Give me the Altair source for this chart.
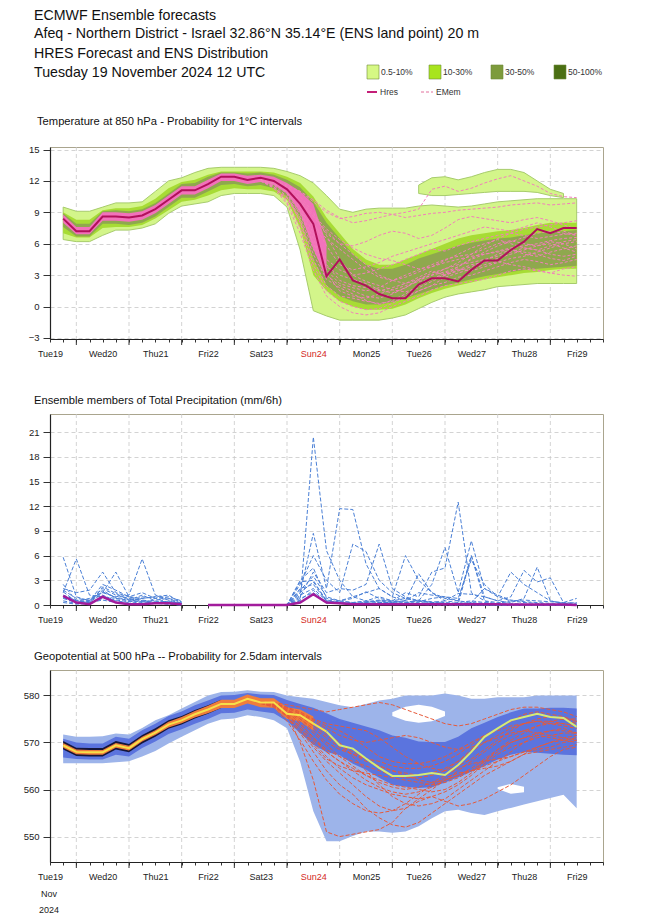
import json
import altair as alt
import pandas as pd

FONT = "Liberation Sans"

# ---------------- time axis ----------------
HOURS = list(range(6, 241, 6))          # forecast steps (h since Tue19 12UTC)
MEM_H = HOURS[15:]                       # 96..240 h, where members diverge
DAY_LABELS = ["Tue19", "Wed20", "Thu21", "Fri22", "Sat23", "Sun24",
              "Mon25", "Tue26", "Wed27", "Thu28", "Fri29"]
GRID_H = [12, 36, 60, 84, 108, 132, 156, 180, 204, 228]
TICK_H = list(range(0, 253, 6))

# ---------------- Temperature 850 hPa ----------------
T_HRES = [8.4, 7.2, 7.2, 8.6, 8.6, 8.5, 8.7, 9.3, 10.2, 11.1, 11.1, 11.7, 12.4, 12.4, 12.1, 12.3, 12.0, 11.2, 9.8, 7.9,
          2.9, 4.5, 2.5, 2.0, 1.2, 0.8, 0.8, 2.1, 2.7, 2.7, 2.4, 3.5, 4.4, 4.4, 5.4, 6.2, 7.4, 7.0, 7.5, 7.5]
T_LO0 = [6.4, 6.2, 6.2, 6.8, 7.3, 7.3, 7.5, 7.9, 8.9, 9.6, 9.8, 10.0, 10.6, 10.8, 10.8, 10.8, 10.6, 9.5, 5.4, -0.4,
         -0.9, -1.3, -1.3, -1.3, -1.3, -1.1, -0.8, -0.2, 0.4, 0.9, 1.2, 1.4, 1.6, 1.9, 2.0, 2.1, 2.2, 2.2, 2.2, 2.2]
T_HI0 = [9.5, 9.1, 9.1, 9.5, 9.9, 9.9, 10.0, 11.0, 12.0, 12.3, 12.8, 13.2, 13.3, 13.3, 13.3, 13.3, 13.2, 12.9, 12.5, 11.8,
         10.6, 9.3, 9.0, 9.3, 9.4, 9.4, 9.4, 9.6, 9.7, 9.6, 9.5, 9.6, 9.8, 10.0, 10.1, 10.2, 10.3, 10.3, 10.3, 10.3]
T_ISL_H = [168, 174, 180, 186, 192, 198, 204, 210, 216, 222, 228, 234]
T_ISL_LO = [10.8, 10.6, 10.6, 10.7, 10.8, 10.9, 11.0, 11.0, 11.0, 10.9, 10.6, 10.4]
T_ISL_HI = [11.6, 12.3, 12.4, 12.1, 12.4, 12.8, 13.1, 13.1, 12.8, 12.0, 11.2, 10.8]
T_LO1 = [7.0, 6.6, 6.6, 7.5, 7.6, 7.6, 7.8, 8.4, 9.2, 10.0, 10.2, 10.6, 11.1, 11.3, 11.2, 11.2, 11.0, 10.2, 7.5, 3.0,
         1.5, 0.5, 0.0, -0.3, -0.3, -0.2, 0.2, 0.8, 1.3, 1.7, 2.0, 2.3, 2.6, 2.8, 3.0, 3.2, 3.3, 3.5, 3.6, 3.6]
T_HI1 = [9.0, 8.3, 8.3, 9.2, 9.4, 9.4, 9.6, 10.3, 11.3, 11.9, 12.1, 12.6, 12.9, 12.9, 12.9, 12.9, 12.8, 12.4, 11.8, 10.5,
         8.5, 7.0, 5.5, 4.5, 4.0, 4.0, 4.5, 5.0, 5.5, 6.0, 6.5, 6.8, 7.0, 7.2, 7.3, 7.5, 7.8, 8.0, 8.0, 8.0]
T_LO2 = [7.6, 6.7, 6.7, 7.9, 7.9, 7.8, 8.0, 8.6, 9.5, 10.4, 10.4, 11.0, 11.6, 11.7, 11.5, 11.6, 11.3, 10.5, 8.5, 4.5,
         2.0, 1.0, 0.5, 0.2, 0.2, 0.4, 0.8, 1.2, 1.6, 2.0, 2.3, 2.6, 2.9, 3.1, 3.3, 3.5, 3.6, 3.7, 3.8, 3.9]
T_HI2 = [8.9, 7.9, 7.9, 9.1, 9.2, 9.1, 9.3, 9.9, 10.8, 11.7, 11.8, 12.4, 12.8, 12.8, 12.7, 12.8, 12.6, 12.1, 11.4, 10.0,
         8.0, 6.5, 5.0, 4.0, 3.6, 3.6, 4.0, 4.6, 5.0, 5.4, 5.8, 6.1, 6.3, 6.5, 6.6, 6.8, 7.0, 7.1, 7.2, 7.3]
T_PK_H = HOURS[:21]
T_PK_LO = [8.0, 6.9, 6.9, 8.2, 8.2, 8.1, 8.3, 8.9, 9.8, 10.7, 10.7, 11.3, 12.0, 12.0, 11.7, 11.9, 11.6, 10.8, 9.0, 5.5, 2.6]
T_PK_HI = [8.8, 7.6, 7.6, 9.0, 9.0, 8.9, 9.1, 9.7, 10.6, 11.5, 11.5, 12.1, 12.7, 12.7, 12.5, 12.6, 12.4, 11.8, 11.0, 9.8, 6.0]
T_MEMBERS = {
    "m1": [12.3, 12.0, 11.5, 11.0, 10.2, 9.2, 8.5, 8.0, 8.2, 8.5, 8.8, 9.0, 9.3, 11.2, 11.5, 11.0, 11.3, 11.8, 12.2, 12.5, 12.0, 11.5, 10.8, 10.5, 10.4],
    "m2": [12.3, 12.1, 11.6, 11.0, 10.0, 9.0, 8.4, 8.6, 8.9, 9.0, 8.8, 8.5, 8.7, 8.9, 9.0, 9.2, 9.3, 9.4, 9.5, 9.7, 9.8, 9.9, 9.7, 9.8, 9.9],
    "m3": [12.2, 11.8, 11.0, 10.0, 8.6, 7.0, 6.0, 5.8, 6.2, 6.8, 7.2, 7.0, 6.5, 6.8, 7.5, 8.3, 8.6, 8.4, 8.2, 8.0, 8.3, 8.5, 8.2, 7.8, 7.4],
    "m4": [12.2, 11.9, 11.2, 9.5, 7.0, 4.5, 3.5, 3.0, 3.2, 3.6, 4.0, 4.5, 5.0, 5.5, 5.3, 5.8, 6.2, 6.5, 6.8, 7.0, 6.8, 6.5, 6.7, 6.9, 7.0],
    "m5": [12.1, 11.6, 10.5, 8.5, 5.5, 3.0, 2.0, 1.5, 1.0, 0.8, 1.2, 1.8, 2.5, 3.0, 3.3, 3.8, 4.5, 5.0, 5.2, 5.5, 5.0, 4.8, 5.2, 5.5, 5.8],
    "m6": [12.0, 11.5, 10.0, 7.5, 4.0, 1.5, 0.5, 0.0, -0.3, -0.2, 0.3, 1.0, 1.5, 2.0, 2.3, 2.8, 3.0, 3.4, 3.8, 4.2, 4.5, 4.3, 4.0, 4.2, 4.5],
    "m7": [12.3, 11.9, 11.0, 9.0, 6.0, 3.5, 2.2, 1.8, 1.5, 1.8, 2.5, 3.0, 3.5, 4.0, 4.5, 4.8, 5.0, 5.5, 6.0, 6.3, 6.0, 5.8, 6.2, 6.0, 5.5],
    "m8": [12.2, 11.7, 10.8, 8.0, 4.5, 2.0, 1.0, 0.8, 0.5, 0.3, 0.5, 0.8, 1.5, 2.0, 2.8, 3.2, 3.6, 4.0, 4.3, 4.0, 3.8, 3.5, 3.2, 3.0, 2.9],
    "m9": [12.1, 11.4, 10.2, 9.0, 7.8, 6.5, 5.5, 4.5, 3.5, 2.8, 2.5, 2.8, 3.3, 3.8, 4.2, 4.5, 4.8, 5.0, 5.3, 5.6, 5.8, 6.0, 6.3, 6.5, 6.6],
    "m10": [12.2, 11.8, 10.8, 8.8, 6.0, 3.8, 3.0, 2.6, 2.2, 1.6, 1.3, 1.8, 2.6, 3.2, 3.6, 4.0, 4.2, 4.5, 4.8, 5.2, 5.6, 5.4, 5.0, 4.8, 5.0],
    "m11": [12.3, 12.0, 11.2, 10.0, 8.6, 7.2, 6.0, 5.0, 4.0, 3.0, 2.5, 2.2, 2.6, 3.0, 3.6, 4.2, 5.0, 5.8, 6.5, 7.0, 7.4, 7.6, 7.8, 8.0, 8.2],
    "m12": [12.0, 11.3, 9.8, 7.0, 3.5, 1.0, 0.0, -0.6, -0.8, -0.6, 0.0, 0.5, 1.0, 1.6, 2.0, 2.2, 2.4, 2.6, 3.0, 3.4, 3.6, 3.4, 3.2, 3.6, 3.8],
    "m13": [12.2, 11.9, 11.3, 10.0, 7.5, 4.0, 2.5, 2.0, 1.8, 1.5, 1.8, 2.2, 2.8, 3.4, 3.0, 3.5, 4.0, 4.2, 4.6, 5.0, 5.4, 5.8, 6.0, 5.6, 5.2],
    "m14": [12.1, 11.7, 10.9, 9.2, 6.5, 3.2, 1.5, 1.0, 0.8, 1.2, 1.6, 2.0, 2.4, 2.6, 3.0, 3.4, 3.8, 4.4, 5.0, 5.4, 5.2, 5.0, 4.6, 4.4, 4.8],
    "m15": [12.3, 12.0, 11.4, 10.5, 9.0, 6.8, 4.5, 3.0, 2.4, 2.0, 1.6, 1.4, 1.8, 2.4, 3.0, 3.8, 4.6, 5.2, 5.8, 6.2, 6.6, 7.0, 7.2, 7.0, 6.8],
    "m16": [12.2, 11.8, 11.1, 9.8, 8.0, 5.8, 4.0, 3.5, 3.8, 4.2, 4.8, 5.2, 5.6, 6.0, 6.4, 6.8, 7.2, 7.6, 7.4, 7.2, 7.6, 8.0, 7.6, 7.2, 6.8],
    "m17": [12.0, 11.4, 10.4, 8.2, 5.0, 2.6, 1.8, 1.2, 0.6, 0.2, 0.6, 1.2, 2.0, 2.6, 3.2, 3.6, 3.4, 3.8, 4.2, 4.6, 4.8, 5.2, 5.6, 6.0, 6.2],
    "m18": [12.3, 11.9, 11.2, 10.2, 8.8, 7.4, 6.4, 5.6, 5.0, 4.6, 4.4, 4.0, 3.6, 3.8, 4.4, 5.0, 5.6, 6.0, 6.4, 6.0, 5.6, 5.4, 5.8, 6.2, 6.4],
}

# ---------------- Precipitation (mm/6h) ----------------
P_HRES = [1.1, 0.3, 0.1, 1.0, 0.3, 0.1, 0.1, 0.2, 0.2, 0.1, None, 0, 0, 0, 0, 0, 0, 0,
          0.3, 1.3, 0.3, 0.2, 0.1, 0.1, 0.1, 0.1, 0.1, 0.1, 0.1, 0.1, 0.1, 0.1, 0.1, 0.1, 0.05, 0.05, 0.05, 0.05, 0.05, 0.0]
P_MEMBERS = {
    "p1": [5.8, 1.0, 0.5, 2.0, 1.2, 0.8, 0.5, 0.3, 0.1, 0.0, None, 0, 0, 0, 0, 0, 0, 0,
           0.5, 20.4, 6.6, 3.0, 1.0, 0.5, 0.3, 0.2, 0.1, 0.1, 0, 0, 0, 0, 0, 0, 0, 0, 0, 0, 0, 0],
    "p2": [1.5, 5.6, 1.2, 1.0, 0.8, 0.5, 0.4, 0.2, 0.1, 0.0, None, 0, 0, 0, 0, 0, 0, 0,
           1.5, 8.7, 2.0, 11.7, 11.6, 5.0, 2.0, 1.0, 0.5, 0.3, 0.2, 0.1, 0, 0, 0, 0, 0, 0, 0, 0, 0, 0],
    "p3": [2.0, 1.5, 1.8, 4.0, 1.5, 1.0, 1.5, 0.8, 0.3, 0.1, None, 0, 0, 0, 0, 0, 0, 0,
           2.5, 6.0, 3.0, 1.5, 7.4, 6.5, 3.0, 1.5, 0.8, 0.5, 0.3, 0.2, 0.1, 6.0, 0.5, 0, 0, 0, 0, 0, 0, 0],
    "p4": [1.0, 0.5, 0.8, 1.5, 1.0, 1.2, 5.6, 1.2, 0.8, 0.2, None, 0, 0, 0, 0, 0, 0, 0,
           1.0, 4.0, 1.5, 2.0, 1.8, 2.5, 7.4, 2.0, 1.0, 0.5, 0.3, 0.2, 0.1, 0.1, 0, 0, 0, 0, 0, 0, 0, 0],
    "p5": [0.8, 0.3, 0.5, 2.5, 1.8, 1.0, 0.8, 1.0, 0.6, 0.2, None, 0, 0, 0, 0, 0, 0, 0,
           3.0, 4.5, 0.8, 0.5, 1.0, 1.5, 2.0, 1.0, 6.0, 3.0, 1.5, 0.8, 0.5, 0.3, 0.2, 0, 0, 0, 0, 0, 0, 0],
    "p6": [1.8, 0.8, 0.6, 1.2, 0.5, 0.3, 1.0, 0.8, 1.0, 0.5, None, 0, 0, 0, 0, 0, 0, 0,
           1.8, 3.5, 1.0, 0.5, 0.3, 0.5, 1.0, 0.5, 1.5, 1.0, 4.0, 4.5, 12.5, 1.5, 0.5, 0.3, 0.2, 0.1, 0, 0, 0, 0],
    "p7": [0.5, 0.2, 0.3, 1.5, 4.0, 1.0, 0.5, 0.3, 0.2, 0.1, None, 0, 0, 0, 0, 0, 0, 0,
           2.0, 2.5, 0.5, 0.3, 0.2, 0.3, 0.5, 0.5, 0.8, 0.5, 2.5, 7.0, 1.5, 7.8, 2.0, 1.0, 0.5, 0.3, 0.2, 0.1, 0, 0],
    "p8": [1.2, 0.6, 0.4, 1.8, 0.8, 0.6, 1.2, 0.5, 0.3, 0.1, None, 0, 0, 0, 0, 0, 0, 0,
           1.2, 2.0, 0.5, 0.3, 0.2, 0.2, 0.3, 0.3, 0.5, 1.5, 1.2, 1.0, 0.8, 5.5, 2.5, 1.0, 4.0, 2.5, 1.5, 0.5, 0.2, 0.0],
    "p9": [0.3, 0.1, 0.2, 0.8, 0.6, 0.4, 0.8, 1.0, 1.2, 0.3, None, 0, 0, 0, 0, 0, 0, 0,
           0.8, 1.5, 0.3, 0.2, 0.1, 0.3, 0.5, 0.3, 0.2, 0.5, 0.3, 0.5, 1.4, 1.3, 1.0, 0.5, 1.0, 4.2, 2.8, 3.3, 0.3, 0.8],
    "p10": [2.5, 0.5, 0.3, 0.6, 0.3, 0.2, 0.4, 0.6, 0.8, 0.4, None, 0, 0, 0, 0, 0, 0, 0,
            2.8, 3.0, 0.4, 0.2, 0.1, 0.1, 0.2, 0.2, 0.3, 0.4, 0.8, 1.0, 0.5, 6.0, 1.0, 0.5, 0.3, 0.8, 4.6, 0.5, 0.2, 0.3],
    "p11": [1.6, 0.4, 0.2, 2.2, 1.4, 0.6, 0.3, 0.2, 0.5, 0.2, None, 0, 0, 0, 0, 0, 0, 0,
            1.5, 2.8, 0.6, 0.4, 0.3, 0.4, 0.6, 0.4, 0.5, 3.8, 1.5, 0.5, 0.3, 0.5, 0.3, 0.2, 0.5, 0.6, 0.5, 0.4, 0.3, 0.2],
    "p12": [0.9, 0.3, 0.6, 1.6, 0.9, 0.7, 0.6, 0.4, 0.4, 0.2, None, 0, 0, 0, 0, 0, 0, 0,
            0.6, 1.8, 0.2, 0.5, 0.8, 1.6, 0.8, 0.5, 0.3, 0.6, 0.4, 0.3, 0.2, 0.3, 2.0, 1.2, 0.6, 0.4, 0.3, 0.2, 0.2, 0.1],
}

# ---------------- Geopotential 500 hPa (dam) ----------------
Z_HRES = [569.4, 568.0, 567.9, 567.9, 569.4, 568.8, 570.7, 572.1, 573.8, 574.7, 576.0, 577.0, 578.2, 578.2, 579.3,
          578.5, 578.5, 576.1, 575.8, 574.0, 572.3, 569.4, 568.7, 566.6, 564.6, 562.9, 562.9, 563.1, 563.5, 563.1,
          565.2, 568.0, 571.2, 573.0, 574.7, 575.4, 576.1, 575.4, 575.2, 573.3]
Z_LO0 = [565.6, 565.6, 565.6, 565.6, 565.8, 566.0, 567.0, 568.2, 569.8, 571.2, 572.6, 574.0, 574.9, 575.1, 575.8,
         575.4, 574.7, 573.0, 565.9, 555.4, 549.0, 549.0, 550.1, 551.1, 551.1, 550.8, 551.1, 552.2, 553.9, 555.4,
         555.7, 555.0, 554.6, 555.4, 556.1, 556.8, 557.5, 558.2, 558.9, 556.0]
Z_HI0 = [571.7, 571.2, 571.2, 571.3, 571.9, 571.7, 573.1, 574.7, 575.8, 577.2, 578.6, 580.0, 580.7, 580.8, 581.1,
         580.8, 580.7, 580.0, 579.6, 579.3, 578.6, 577.9, 577.5, 578.2, 578.9, 579.3, 580.0, 580.0, 580.0, 580.4,
         580.0, 579.3, 579.3, 579.6, 579.6, 579.6, 580.0, 580.0, 580.0, 580.0]
Z_LO1 = [566.8, 566.5, 566.4, 566.4, 567.4, 567.0, 568.8, 570.2, 571.8, 572.8, 574.0, 575.0, 576.2, 576.3, 577.0,
         576.6, 576.2, 574.5, 572.0, 569.5, 568.0, 567.3, 565.5, 564.2, 562.5, 561.0, 560.6, 560.3, 560.5, 561.5,
         562.6, 563.8, 565.0, 566.4, 567.4, 568.0, 567.8, 567.6, 567.4, 567.3]
Z_HI1 = [570.8, 570.0, 569.8, 569.8, 571.2, 570.8, 572.6, 574.0, 575.6, 576.6, 577.9, 578.9, 580.0, 580.1, 580.5,
         580.2, 580.1, 579.0, 578.2, 577.4, 576.2, 575.0, 574.2, 573.4, 572.6, 571.5, 571.0, 570.2, 570.1, 570.1,
         571.2, 573.0, 574.2, 575.4, 576.4, 577.2, 577.2, 577.4, 577.4, 577.2]
Z_BK_H = HOURS[:13]
Z_LO2 = [568.5, 567.1, 567.0, 567.0, 568.5, 567.9, 569.8, 571.2, 572.9, 573.8, 575.1, 576.1, 577.3]
Z_HI2 = [570.3, 568.9, 568.8, 568.8, 570.3, 569.7, 571.6, 573.0, 574.7, 575.6, 576.9, 577.9, 579.1]
Z_OR_H = HOURS[:20]
Z_LO3 = [568.9, 567.5, 567.4, 567.4, 568.9, 568.3, 570.2, 571.6, 573.2, 574.1, 575.3, 576.2, 577.3, 577.3, 578.3,
         577.5, 577.4, 575.0, 574.5, 572.5]
Z_HI3 = [569.9, 568.5, 568.4, 568.4, 569.9, 569.3, 571.2, 572.6, 574.4, 575.4, 576.7, 577.8, 579.1, 579.1, 580.2,
         579.4, 579.4, 577.5, 577.0, 575.5]
Z_HOLE1_H = [156, 162, 168, 174, 180]
Z_HOLE1_LO = [575.6, 574.6, 574.2, 574.5, 575.6]
Z_HOLE1_HI = [576.4, 577.6, 578.0, 577.6, 576.6]
Z_HOLE2_H = [204, 210, 216]
Z_HOLE2_LO = [560.1, 559.1, 559.4]
Z_HOLE2_HI = [560.5, 561.2, 560.6]
Z_MEMBERS = {
    "z1": [578.5, 578.0, 576.0, 570.0, 562.0, 551.0, 550.0, 550.5, 551.0, 551.5, 553.0, 556.0, 558.0, 560.0, 562.0, 563.0, 564.0, 565.0, 566.0, 567.0, 568.0, 568.5, 569.0, 570.0, 570.5],
    "z2": [578.5, 578.2, 577.0, 575.5, 574.0, 572.0, 570.0, 567.0, 564.0, 561.0, 558.5, 557.0, 556.5, 557.0, 558.0, 560.0, 562.0, 564.0, 566.0, 568.0, 570.0, 571.5, 572.5, 573.0, 572.0],
    "z3": [578.6, 578.4, 577.5, 576.5, 575.0, 574.0, 573.5, 573.0, 572.5, 571.0, 569.0, 567.0, 565.5, 564.5, 564.0, 565.0, 566.5, 568.5, 570.5, 572.5, 574.0, 575.0, 575.5, 575.0, 574.0],
    "z4": [578.4, 577.8, 575.5, 572.0, 568.0, 564.0, 561.0, 559.0, 556.0, 554.0, 552.5, 552.0, 553.0, 555.0, 557.0, 559.0, 561.0, 563.0, 564.5, 566.0, 567.5, 569.0, 570.0, 571.0, 571.5],
    "z5": [578.6, 578.5, 578.0, 577.5, 577.0, 576.5, 577.0, 577.5, 578.0, 578.5, 578.0, 577.0, 576.0, 575.0, 574.0, 573.5, 574.0, 575.0, 576.0, 577.0, 577.5, 577.5, 577.0, 576.5, 575.5],
    "z6": [578.5, 578.0, 576.5, 574.0, 571.0, 568.0, 566.0, 564.5, 563.0, 562.0, 561.0, 560.5, 560.0, 559.5, 560.0, 561.5, 563.5, 566.0, 568.5, 570.5, 572.0, 573.5, 574.5, 575.0, 575.0],
    "z7": [578.3, 577.5, 574.5, 570.5, 566.0, 562.0, 559.0, 557.0, 555.5, 555.0, 555.5, 557.0, 559.0, 561.0, 562.5, 563.5, 564.0, 564.5, 565.0, 566.0, 567.5, 568.0, 568.5, 569.0, 569.5],
    "z8": [578.6, 578.3, 577.0, 575.0, 573.0, 571.0, 569.0, 567.5, 566.0, 565.0, 564.0, 563.5, 563.0, 563.5, 564.5, 566.0, 568.0, 570.0, 571.5, 573.0, 574.0, 574.5, 574.0, 573.5, 573.0],
    "z9": [578.4, 578.1, 576.8, 574.5, 572.0, 569.5, 567.0, 565.0, 563.0, 561.5, 560.5, 560.0, 560.5, 561.5, 563.0, 564.5, 565.5, 566.0, 566.5, 567.0, 568.0, 569.0, 570.0, 570.5, 571.0],
    "z10": [578.5, 578.2, 577.3, 576.0, 574.5, 573.0, 571.5, 570.5, 570.0, 570.5, 571.0, 571.5, 571.0, 570.0, 569.0, 568.5, 569.0, 570.0, 571.0, 572.0, 572.5, 572.0, 571.5, 571.0, 570.5],
    "z11": [578.3, 577.6, 575.5, 572.5, 569.0, 566.0, 563.5, 561.0, 558.5, 556.5, 555.5, 556.0, 557.5, 558.5, 557.5, 556.5, 557.0, 558.0, 559.5, 561.0, 563.0, 565.0, 567.0, 568.5, 569.0],
    "z12": [578.5, 578.0, 576.2, 573.0, 569.5, 566.5, 565.0, 564.0, 563.5, 563.0, 562.5, 562.0, 561.5, 561.0, 561.5, 562.5, 564.0, 566.0, 568.0, 570.0, 571.0, 572.0, 572.5, 572.5, 572.0],
    "z13": [578.5, 578.1, 576.6, 574.0, 571.0, 568.5, 567.0, 566.0, 565.0, 564.0, 563.0, 562.5, 562.5, 563.0, 564.0, 566.0, 568.5, 571.0, 573.0, 574.5, 575.5, 576.0, 575.5, 575.0, 574.5],
    "z14": [578.4, 577.9, 576.0, 573.5, 570.5, 568.0, 566.0, 564.0, 562.0, 560.5, 559.5, 559.0, 559.5, 560.5, 562.0, 564.0, 566.0, 568.0, 570.0, 571.5, 572.5, 573.5, 574.0, 574.0, 573.5],
    "z15": [578.6, 578.2, 577.0, 575.5, 573.5, 571.5, 569.5, 568.0, 566.5, 565.0, 564.0, 563.0, 562.0, 561.5, 562.0, 563.0, 564.5, 566.5, 568.5, 570.0, 571.0, 571.5, 571.0, 570.5, 570.0],
    "z16": [578.5, 578.0, 576.8, 575.0, 572.5, 570.0, 568.5, 567.5, 566.5, 566.0, 565.0, 564.5, 564.5, 565.0, 566.0, 567.5, 569.5, 571.5, 573.0, 574.5, 576.0, 576.5, 576.0, 575.5, 574.5],
    "z17": [578.4, 577.7, 575.8, 573.0, 570.0, 567.0, 564.5, 562.5, 561.0, 560.0, 559.0, 558.5, 558.0, 558.5, 559.5, 561.0, 563.0, 565.5, 567.5, 569.0, 570.0, 571.0, 571.5, 572.0, 572.0],
    "z18": [578.5, 578.3, 577.4, 576.2, 574.8, 573.5, 572.5, 571.0, 569.0, 567.0, 566.0, 565.5, 565.5, 566.0, 567.0, 568.5, 570.0, 571.5, 572.5, 573.5, 574.0, 574.5, 574.5, 574.0, 573.5],
}

# ---------------- helpers ----------------
W = 553
H1, H2, H3 = 192, 191, 192
X_SCALE = alt.Scale(domain=[0, 252], nice=False, zero=False)
LABEL_EXPR = "datum.value % 24 == 0 ? " + json.dumps(DAY_LABELS) + "[datum.value / 24] : ''"
DUMMY = pd.DataFrame({"a": [0]})


def band(hours, lo, hi):
    return pd.DataFrame({"h": hours, "lo": lo, "hi": hi})


def series(hours, v):
    return pd.DataFrame({"h": hours, "v": v})


def members(hours, mems):
    rows = [{"m": k, "h": h, "v": v} for k, vals in mems.items() for h, v in zip(hours, vals)]
    return pd.DataFrame(rows)


def x_axis():
    return alt.Axis(values=TICK_H, labelExpr=LABEL_EXPR, grid=False, tickSize=3, tickColor="#333333",
                    labelPadding=7, labelFontSize=9, labelFont=FONT,
                    labelColor=alt.condition("datum.value == 120", alt.value("#d42a1e"), alt.value("#222222")),
                    labelFlush=False, labelOverlap=False, labelBound=False,
                    domainColor="#222222", domainWidth=1.2, title=None)


def y_axis(vals):
    return alt.Axis(values=vals, grid=True, gridDash=[4, 3], gridColor="#c8c8c8", gridWidth=0.8,
                    tickSize=7, tickColor="#333333", labelPadding=4, labelFontSize=9.5, labelFont=FONT,
                    labelColor="#222222", domainColor="#222222", domainWidth=1.2, title=None, labelFlush=False)


def X():
    return alt.X("h:Q", scale=X_SCALE, axis=x_axis())


def frame(height):
    g = pd.DataFrame({"h": GRID_H})
    vgrid = alt.Chart(g).mark_rule(strokeDash=[4, 3], color="#c8c8c8", strokeWidth=0.8).encode(x=X())
    major = alt.Chart(g).mark_rule(color="#333333", strokeWidth=1).encode(
        x=X(), y=alt.value(height), y2=alt.value(height + 6))
    return [vgrid, major]


def text(t, x, y, size, color="#111111", align="left", baseline="middle"):
    return alt.Chart(DUMMY).mark_text(text=t, fontSize=size, font=FONT, color=color, align=align,
                                      baseline=baseline).encode(x=alt.value(x), y=alt.value(y))


def area(df, ysc, yax, color, stroke=None, opacity=1.0):
    kw = dict(color=color, opacity=opacity)
    if stroke:
        kw.update(stroke=stroke, strokeWidth=1)
    return alt.Chart(df).mark_area(**kw).encode(
        x=X(), y=alt.Y("lo:Q", scale=ysc, axis=yax), y2="hi:Q")


# ---------------- panel 1: temperature ----------------
Y1 = alt.Scale(domain=[-3.1, 15.24], nice=False, zero=False)
YA1 = y_axis([-3, 0, 3, 6, 9, 12, 15])
p1_layers = frame(H1) + [
    area(band(HOURS, T_LO0, T_HI0), Y1, YA1, "#d3f58a", stroke="#a7cc6c"),
    area(band(T_ISL_H, T_ISL_LO, T_ISL_HI), Y1, YA1, "#d3f58a", stroke="#a7cc6c"),
    area(band(HOURS, T_LO1, T_HI1), Y1, YA1, "#a7dc34"),
    area(band(HOURS, T_LO2, T_HI2), Y1, YA1, "#8fa84e"),
    area(band(T_PK_H, T_PK_LO, T_PK_HI), Y1, YA1, "#f272bb"),
    alt.Chart(members(MEM_H, T_MEMBERS)).mark_line(color="#f27fba", strokeWidth=1, strokeDash=[3, 2]).encode(
        x=X(), y=alt.Y("v:Q", scale=Y1, axis=YA1), detail="m:N"),
    alt.Chart(series(HOURS, T_HRES)).mark_line(color="#b1105b", strokeWidth=2).encode(
        x=X(), y=alt.Y("v:Q", scale=Y1, axis=YA1)),
    # page anchor (top-left of the page content)
    alt.Chart(DUMMY).mark_rule(color="white", strokeWidth=1).encode(
        x=alt.value(-40.5), y=alt.value(-138), y2=alt.value(-136)),
    # header
    text("ECMWF Ensemble forecasts", -16, -131, 14.2),
    text("Afeq - Northern District - Israel 32.86°N 35.14°E (ENS land point) 20 m", -16, -113, 14.2),
    text("HRES Forecast and ENS Distribution", -16, -93, 14.2),
    text("Tuesday 19 November 2024 12 UTC", -16, -74, 14.2),
    text("Temperature at 850 hPa - Probability for 1°C intervals", -13, -25, 11.2),
]
LEG = [("0.5-10%", 317, "#d6f884"), ("10-30%", 379, "#a8e41e"), ("30-50%", 441, "#7d9b3c"), ("50-100%", 504, "#4b6f13")]
for lab, lx, col in LEG:
    p1_layers.append(alt.Chart(DUMMY).mark_rect(color=col, stroke="#6f8a3a", strokeWidth=0.6).encode(
        x=alt.value(lx), x2=alt.value(lx + 12), y=alt.value(-82), y2=alt.value(-68)))
    p1_layers.append(text(lab, lx + 14, -75, 8.5, color="#333333"))
p1_layers += [
    alt.Chart(DUMMY).mark_rule(color="#c41f78", strokeWidth=2).encode(
        x=alt.value(317), x2=alt.value(327), y=alt.value(-55)),
    text("Hres", 330, -55, 8.5, color="#333333"),
    alt.Chart(DUMMY).mark_rule(color="#e2709c", strokeWidth=1, strokeDash=[3, 2]).encode(
        x=alt.value(371), x2=alt.value(383), y=alt.value(-55)),
    text("EMem", 386, -55, 8.5, color="#333333"),
]
p1 = alt.layer(*p1_layers).properties(width=W, height=H1)

# ---------------- panel 2: precipitation ----------------
Y2 = alt.Scale(domain=[0, 23.2], nice=False, zero=False)
YA2 = y_axis([0, 3, 6, 9, 12, 15, 18, 21])
p2 = alt.layer(*(frame(H2) + [
    alt.Chart(members(HOURS, P_MEMBERS)).mark_line(color="#4a7fd6", strokeWidth=1, strokeDash=[4, 2]).encode(
        x=X(), y=alt.Y("v:Q", scale=Y2, axis=YA2), detail="m:N"),
    alt.Chart(series(HOURS, P_HRES)).mark_line(color="#a21c9c", strokeWidth=2.5).encode(
        x=X(), y=alt.Y("v:Q", scale=Y2, axis=YA2)),
    text("Ensemble members of Total Precipitation (mm/6h)", -16, -13, 11.2),
])).properties(width=W, height=H2)

# ---------------- panel 3: geopotential ----------------
Y3 = alt.Scale(domain=[544.6, 585.4], nice=False, zero=False)
YA3 = y_axis([550, 560, 570, 580])
zh = series(HOURS, Z_HRES)
p3 = alt.layer(*(frame(H3) + [
    area(band(HOURS, Z_LO0, Z_HI0), Y3, YA3, "#9db4ea"),
    area(band(Z_HOLE1_H, Z_HOLE1_LO, Z_HOLE1_HI), Y3, YA3, "#ffffff"),
    area(band(Z_HOLE2_H, Z_HOLE2_LO, Z_HOLE2_HI), Y3, YA3, "#ffffff"),
    area(band(HOURS, Z_LO1, Z_HI1), Y3, YA3, "#5b74de"),
    area(band(Z_BK_H, Z_LO2, Z_HI2), Y3, YA3, "#15163a"),
    area(band(Z_OR_H, Z_LO3, Z_HI3), Y3, YA3, "#ef7d3c"),
    alt.Chart(members(MEM_H, Z_MEMBERS)).mark_line(color="#e65a3a", strokeWidth=1, strokeDash=[4, 2]).encode(
        x=X(), y=alt.Y("v:Q", scale=Y3, axis=YA3), detail="m:N"),
    alt.Chart(zh[zh.h <= 126]).mark_line(color="#f6e04a", strokeWidth=2).encode(
        x=X(), y=alt.Y("v:Q", scale=Y3, axis=YA3)),
    alt.Chart(zh[zh.h >= 126]).mark_line(color="#d4ec76", strokeWidth=2).encode(
        x=X(), y=alt.Y("v:Q", scale=Y3, axis=YA3)),
    text("Geopotential at 500 hPa -- Probability for 2.5dam intervals", -16, -13, 11.2),
    text("Nov", -1, 224, 9, color="#222222", align="center"),
    text("2024", -1, 240, 9, color="#222222", align="center"),
])).properties(width=W, height=H3)

chart = alt.vconcat(
    p1,
    alt.vconcat(p2, p3, spacing=65, bounds="flush"),
    spacing=75, bounds="flush",
).properties(padding=0).configure_view(stroke="#aaa58e", strokeWidth=1)

chart.save("out.html", embed_options={"renderer": "svg", "actions": False})
